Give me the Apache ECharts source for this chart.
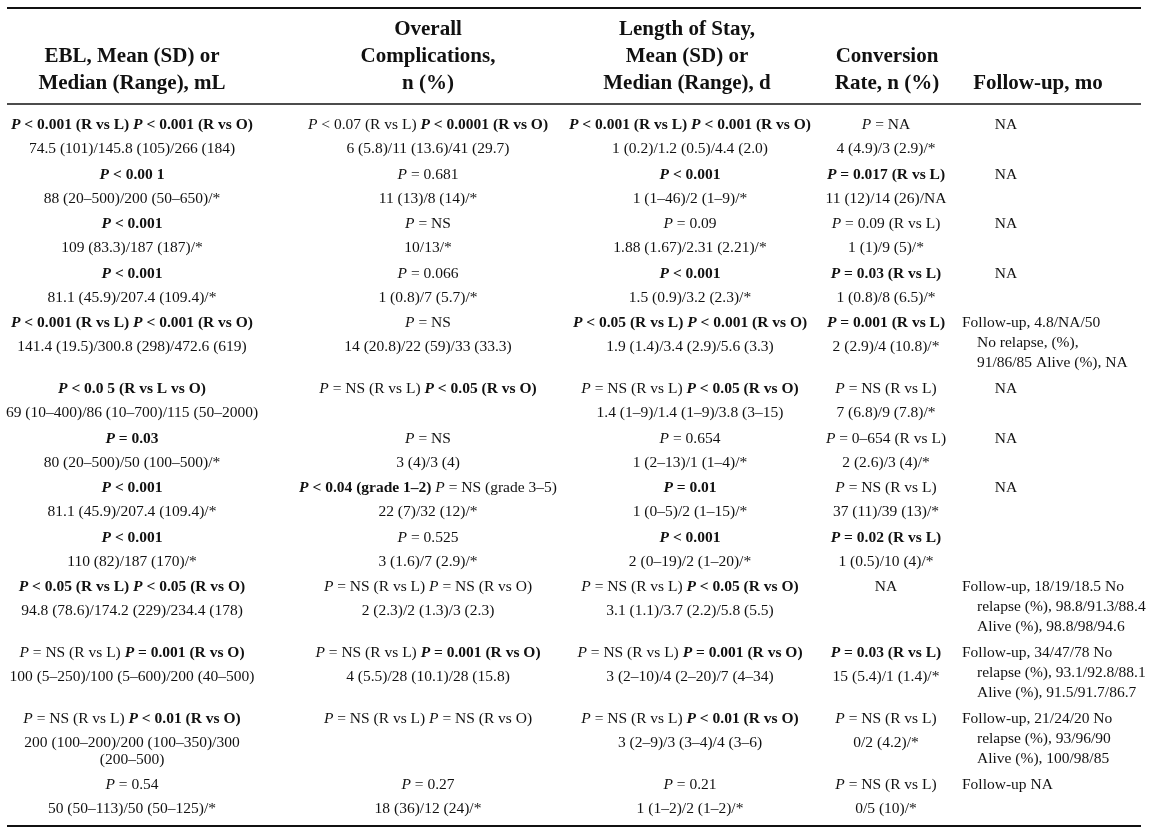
<!DOCTYPE html>
<html>
<head>
<meta charset="utf-8">
<script src="https://cdn.jsdelivr.net/npm/echarts@6/dist/echarts.min.js"></script>
<style>
  html, body { margin: 0; background: #fff; }
  #main { width: 1149px; height: 837px; }
</style>
</head>
<body>
<div id="main"></div>
<script>
// P value cells: bold when significant, plain when not
const S = t => '{bi|P}{b| ' + t + '}'
const N = t => '{i|P}{n| ' + t + '}'

const headers = [
  ['EBL, Mean (SD) or', 'Median (Range), mL'],
  ['Overall', 'Complications,', 'n (%)'],
  ['Length of Stay,', 'Mean (SD) or', 'Median (Range), d'],
  ['Conversion', 'Rate, n (%)'],
  ['Follow-up, mo']
]

const eblP = [
  S('< 0.001 (R vs L)') + ' ' + S('< 0.001 (R vs O)'),
  S('< 0.00 1'),
  S('< 0.001'),
  S('< 0.001'),
  S('< 0.001 (R vs L)') + ' ' + S('< 0.001 (R vs O)'),
  S('< 0.0 5 (R vs L vs O)'),
  S('= 0.03'),
  S('< 0.001'),
  S('< 0.001'),
  S('< 0.05 (R vs L)') + ' ' + S('< 0.05 (R vs O)'),
  N('= NS (R vs L)') + ' ' + S('= 0.001 (R vs O)'),
  N('= NS (R vs L)') + ' ' + S('< 0.01 (R vs O)'),
  N('= 0.54')
]
const eblVal = [
  '74.5 (101)/145.8 (105)/266 (184)',
  '88 (20–500)/200 (50–650)/*',
  '109 (83.3)/187 (187)/*',
  '81.1 (45.9)/207.4 (109.4)/*',
  '141.4 (19.5)/300.8 (298)/472.6 (619)',
  '69 (10–400)/86 (10–700)/115 (50–2000)',
  '80 (20–500)/50 (100–500)/*',
  '81.1 (45.9)/207.4 (109.4)/*',
  '110 (82)/187 (170)/*',
  '94.8 (78.6)/174.2 (229)/234.4 (178)',
  '100 (5–250)/100 (5–600)/200 (40–500)',
  '200 (100–200)/200 (100–350)/300\n(200–500)',
  '50 (50–113)/50 (50–125)/*'
]

const complP = [
  N('< 0.07 (R vs L)') + ' ' + S('< 0.0001 (R vs O)'),
  N('= 0.681'),
  N('= NS'),
  N('= 0.066'),
  N('= NS'),
  N('= NS (R vs L)') + ' ' + S('< 0.05 (R vs O)'),
  N('= NS'),
  S('< 0.04 (grade 1–2)') + ' ' + N('= NS (grade 3–5)'),
  N('= 0.525'),
  N('= NS (R vs L)') + ' ' + N('= NS (R vs O)'),
  N('= NS (R vs L)') + ' ' + S('= 0.001 (R vs O)'),
  N('= NS (R vs L)') + ' ' + N('= NS (R vs O)'),
  N('= 0.27')
]
const complVal = [
  '6 (5.8)/11 (13.6)/41 (29.7)',
  '11 (13)/8 (14)/*',
  '10/13/*',
  '1 (0.8)/7 (5.7)/*',
  '14 (20.8)/22 (59)/33 (33.3)',
  '',
  '3 (4)/3 (4)',
  '22 (7)/32 (12)/*',
  '3 (1.6)/7 (2.9)/*',
  '2 (2.3)/2 (1.3)/3 (2.3)',
  '4 (5.5)/28 (10.1)/28 (15.8)',
  '',
  '18 (36)/12 (24)/*'
]

const losP = [
  S('< 0.001 (R vs L)') + ' ' + S('< 0.001 (R vs O)'),
  S('< 0.001'),
  N('= 0.09'),
  S('< 0.001'),
  S('< 0.05 (R vs L)') + ' ' + S('< 0.001 (R vs O)'),
  N('= NS (R vs L)') + ' ' + S('< 0.05 (R vs O)'),
  N('= 0.654'),
  S('= 0.01'),
  S('< 0.001'),
  N('= NS (R vs L)') + ' ' + S('< 0.05 (R vs O)'),
  N('= NS (R vs L)') + ' ' + S('= 0.001 (R vs O)'),
  N('= NS (R vs L)') + ' ' + S('< 0.01 (R vs O)'),
  N('= 0.21')
]
const losVal = [
  '1 (0.2)/1.2 (0.5)/4.4 (2.0)',
  '1 (1–46)/2 (1–9)/*',
  '1.88 (1.67)/2.31 (2.21)/*',
  '1.5 (0.9)/3.2 (2.3)/*',
  '1.9 (1.4)/3.4 (2.9)/5.6 (3.3)',
  '1.4 (1–9)/1.4 (1–9)/3.8 (3–15)',
  '1 (2–13)/1 (1–4)/*',
  '1 (0–5)/2 (1–15)/*',
  '2 (0–19)/2 (1–20)/*',
  '3.1 (1.1)/3.7 (2.2)/5.8 (5.5)',
  '3 (2–10)/4 (2–20)/7 (4–34)',
  '3 (2–9)/3 (3–4)/4 (3–6)',
  '1 (1–2)/2 (1–2)/*'
]

const convP = [
  N('= NA'),
  S('= 0.017 (R vs L)'),
  N('= 0.09 (R vs L)'),
  S('= 0.03 (R vs L)'),
  S('= 0.001 (R vs L)'),
  N('= NS (R vs L)'),
  N('= 0–654 (R vs L)'),
  N('= NS (R vs L)'),
  S('= 0.02 (R vs L)'),
  'NA',
  S('= 0.03 (R vs L)'),
  N('= NS (R vs L)'),
  N('= NS (R vs L)')
]
const convVal = [
  '4 (4.9)/3 (2.9)/*',
  '11 (12)/14 (26)/NA',
  '1 (1)/9 (5)/*',
  '1 (0.8)/8 (6.5)/*',
  '2 (2.9)/4 (10.8)/*',
  '7 (6.8)/9 (7.8)/*',
  '2 (2.6)/3 (4)/*',
  '37 (11)/39 (13)/*',
  '1 (0.5)/10 (4)/*',
  '',
  '15 (5.4)/1 (1.4)/*',
  '0/2 (4.2)/*',
  '0/5 (10)/*'
]

const followUp = [
  'NA',
  'NA',
  'NA',
  'NA',
  'Follow-up, 4.8/NA/50\nNo relapse, (%),\n91/86/85 Alive (%), NA',
  'NA',
  'NA',
  'NA',
  '',
  'Follow-up, 18/19/18.5 No\nrelapse (%), 98.8/91.3/88.4\nAlive (%), 98.8/98/94.6',
  'Follow-up, 34/47/78 No\nrelapse (%), 93.1/92.8/88.1\nAlive (%), 91.5/91.7/86.7',
  'Follow-up, 21/24/20 No\nrelapse (%), 93/96/90\nAlive (%), 100/98/85',
  'Follow-up NA'
]

// layout
const font = '"Liberation Serif", "Times New Roman", serif'
const ink = '#111'
const bodySize = 15.5
const headSize = 21
const colX = [132, 428, 690, 886, 1006]
const headX = [132, 428, 687, 887, 1038]
const fuLeft = 962
const fuIndent = 15
const tableLeft = 7
const tableRight = 1141
const headBase = 84
const headGap = 27
const firstRow = 125
const lineGap = 24
const cellWrapGap = 17
const fuWrapGap = 20
const rowPad = 25.6

const rich = {
  n: { fontFamily: font, fontSize: bodySize, fill: ink, color: ink },
  i: { fontFamily: font, fontSize: bodySize, fontStyle: 'italic', fill: ink, color: ink },
  b: { fontFamily: font, fontSize: bodySize, fontWeight: 'bold', fill: ink, color: ink },
  bi: { fontFamily: font, fontSize: bodySize, fontWeight: 'bold', fontStyle: 'italic', fill: ink, color: ink }
}

function txt (x, y, text, align, size, weight) {
  return {
    type: 'text',
    x: x,
    y: y,
    style: {
      text: text,
      align: align,
      verticalAlign: 'middle',
      fontFamily: font,
      fontSize: size || bodySize,
      fontWeight: weight || 'normal',
      fill: ink,
      rich: rich
    }
  }
}

function hline (y, w) {
  return {
    type: 'line',
    shape: { x1: tableLeft, y1: y, x2: tableRight, y2: y },
    style: { stroke: ink, lineWidth: w }
  }
}

const els = []

headers.forEach((lines, c) => {
  lines.forEach((line, k) => {
    const y = headBase - (lines.length - 1 - k) * headGap
    els.push(txt(headX[c], y, line, 'center', headSize, 'bold'))
  })
})

const cols = [[eblP, eblVal], [complP, complVal], [losP, losVal], [convP, convVal]]
let y = firstRow
for (let r = 0; r < eblP.length; r++) {
  let last = lineGap
  cols.forEach(([pArr, vArr], c) => {
    els.push(txt(colX[c], y, pArr[r], 'center'))
    vArr[r].split('\n').forEach((line, k) => {
      const off = lineGap + k * cellWrapGap
      if (line) els.push(txt(colX[c], y + off, line, 'center'))
      last = Math.max(last, off)
    })
  })
  const fu = followUp[r]
  if (fu.indexOf('Follow-up') === 0) {
    fu.split('\n').forEach((line, k) => {
      els.push(txt(k === 0 ? fuLeft : fuLeft + fuIndent, y + k * fuWrapGap, line, 'left'))
      last = Math.max(last, k * fuWrapGap)
    })
  } else if (fu) {
    els.push(txt(colX[4], y, fu, 'center'))
  }
  y += last + rowPad
}

els.push(hline(8, 2))
els.push(hline(104, 1.5))
els.push(hline(826, 2))

const chart = echarts.init(document.getElementById('main'))
chart.setOption({
  backgroundColor: '#fff',
  animation: false,
  graphic: { elements: els }
})
</script>
</body>
</html>
